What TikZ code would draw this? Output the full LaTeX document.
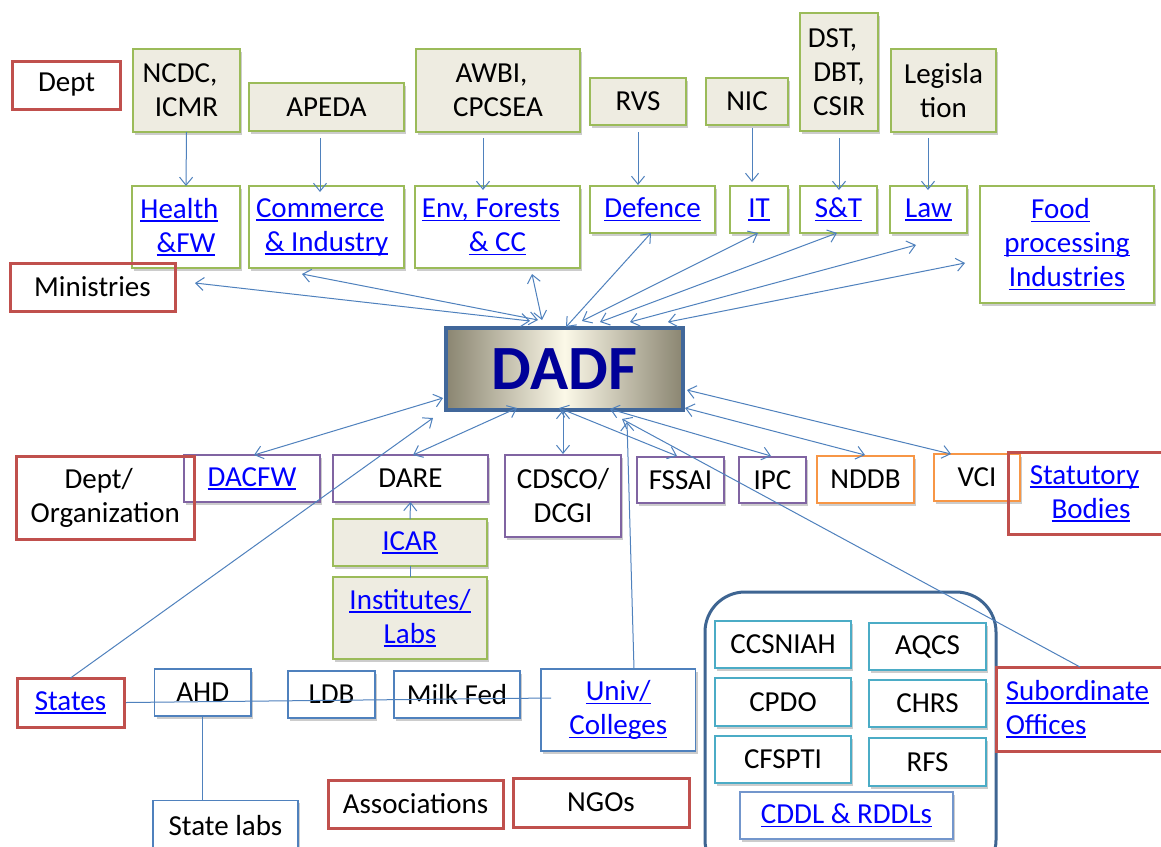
\documentclass[tikz,border=0pt]{standalone}
\usepackage{fontspec}
\setmainfont{Carlito}
\usetikzlibrary{arrows.meta,calc,shadows}
\definecolor{olivefill}{HTML}{EEECE1}
\definecolor{greenline}{HTML}{9BBB59}
\definecolor{redline}{HTML}{C0504D}
\definecolor{purpleline}{HTML}{8064A2}
\definecolor{orangeline}{HTML}{F79646}
\definecolor{blueline}{HTML}{4F81BD}
\definecolor{tealline}{HTML}{4BACC6}
\definecolor{cddlline}{HTML}{7396CC}
\definecolor{contline}{HTML}{3E6592}
\definecolor{dadfline}{HTML}{41679A}
\definecolor{dadfedge}{HTML}{8A8571}
\definecolor{dadfmid}{HTML}{FBF8E8}
\definecolor{linkblue}{HTML}{0000FF}
\definecolor{navytext}{HTML}{000099}
\newcommand\lnk[1]{{\color{linkblue}\setbox0\hbox{#1}\rlap{\rule[-3.5pt]{\wd0}{1.5pt}}\box0}}
\newcommand\tsp{\hspace*{0.45em}}
\newcommand\placebox[7]{\node[#1,minimum width={#5-#3},minimum height={#6-#4}] (#2) at ({(#3+#5)/2},{(#4+#6)/2}) {#7};}
\tikzset{
  base/.style={font={\fontsize{29}{34}\selectfont}, align=center, inner sep=0pt, outer sep=0pt, line width=1.3pt},
  shad/.style={drop shadow={opacity=0.2, shadow xshift=2pt, shadow yshift=-2.5pt, fill=black}},
  olivebox/.style={base, shad, draw=greenline, fill=olivefill},
  greenbox/.style={base, shad, draw=greenline, fill=white},
  redbox/.style={base, draw=redline, line width=3pt},
  purplebox/.style={base, shad, draw=purpleline, fill=white},
  orangebox/.style={base, shad, draw=orangeline, fill=white},
  bluebox/.style={base, shad, draw=blueline, fill=white, line width=1.1pt},
  tealbox/.style={base, shad, draw=tealline, fill=white},
  cddlbox/.style={base, shad, draw=cddlline, fill=white},
  dadfbox/.style={base, draw=dadfline, line width=3.5pt, left color=dadfedge, right color=dadfedge, middle color=dadfmid, font={\fontsize{63}{70}\selectfont\bfseries}, text=navytext},
  contbox/.style={draw=contline, line width=3pt, rounded corners=40pt, inner sep=0pt, outer sep=0pt},
  conn/.style={draw=blueline, line width=1pt},
  arr/.style={conn, -{Straight Barb[length=8pt,width=13pt]}},
  darr/.style={conn, {Straight Barb[length=8pt,width=13pt]}-{Straight Barb[length=8pt,width=13pt]}}
}
\begin{document}
\begin{tikzpicture}[x=1pt,y=-1pt]
\useasboundingbox (0,0) rectangle (1161,846);
\clip (0,0) rectangle (1161,846);
\fill[white] (0,0) rectangle (1161,846);
% top row
\placebox{olivebox}{ncdc}{133}{49}{240}{132}{NCDC,\tsp\\ICMR}
\placebox{olivebox}{apeda}{249}{83}{404}{131}{APEDA}
\placebox{olivebox}{awbi}{416}{49}{580}{132}{AWBI,\tsp\\CPCSEA}
\placebox{olivebox}{rvs}{590}{78}{686}{125}{RVS}
\placebox{olivebox}{nic}{706}{78}{788}{125}{NIC}
\placebox{olivebox}{dst}{800}{13}{878}{131}{DST,\tsp\\DBT,\tsp\\CSIR}
\placebox{olivebox}{legis}{891}{49}{996}{132}{Legisla\\tion}
% ministries
\placebox{greenbox}{health}{132}{186}{240}{268}{\lnk{Health}\tsp\\\lnk{\&FW}}
\placebox{greenbox}{commerce}{249}{186}{404}{268}{\lnk{Commerce}\tsp\\\lnk{\& Industry}}
\placebox{greenbox}{env}{415}{186}{580}{268}{\lnk{Env, Forests}\tsp\\\lnk{\& CC}}
\placebox{greenbox}{defence}{590}{186}{715}{233}{\lnk{Defence}}
\placebox{greenbox}{it}{730}{186}{788}{233}{\lnk{IT}}
\placebox{greenbox}{snt}{800}{186}{877}{233}{\lnk{S\&T}}
\placebox{greenbox}{law}{890}{186}{967}{233}{\lnk{Law}}
\placebox{greenbox}{food}{980}{186}{1154}{303}{\lnk{Food}\tsp\\\lnk{processing}\tsp\\\lnk{Industries}}
% DADF
\placebox{dadfbox}{dadf}{446}{328}{683}{410}{DADF}
% dept / organizations
\placebox{purplebox}{dacfw}{184}{455}{320}{502}{\lnk{DACFW}}
\placebox{purplebox}{dare}{333}{455}{488}{502}{DARE}
\placebox{purplebox}{cdsco}{505}{455}{621}{537}{CDSCO/\\DCGI}
\placebox{purplebox}{fssai}{637}{457}{724}{503}{FSSAI}
\placebox{purplebox}{ipc}{739}{457}{806}{503}{IPC}
\placebox{orangebox}{nddb}{817}{456}{914}{503}{NDDB}
\placebox{orangebox}{vci}{934}{454}{1020}{501}{VCI}
\placebox{olivebox}{icar}{333}{519}{487}{566}{\lnk{ICAR}}
\placebox{olivebox}{inst}{333}{577}{487}{659}{\lnk{Institutes/}\\\lnk{Labs}}
% states level
\placebox{bluebox}{ahd}{154.5}{669}{251}{716}{AHD}
\placebox{bluebox}{ldb}{288}{671}{375}{718}{LDB}
\placebox{bluebox}{milk}{394}{671}{520}{718}{Milk Fed}
\placebox{bluebox}{univ}{541}{669}{695.5}{751}{\lnk{Univ/}\\\lnk{Colleges}}
\placebox{bluebox}{statelabs}{153}{800.7}{298}{851}{State labs}
% subordinate offices group
\placebox{contbox}{group}{705}{592}{996}{880}{}
\placebox{tealbox}{ccsniah}{715}{621}{851}{668}{CCSNIAH}
\placebox{tealbox}{aqcs}{869}{623}{986}{670}{AQCS}
\placebox{tealbox}{cpdo}{715}{678}{851}{726}{CPDO}
\placebox{tealbox}{chrs}{869}{680}{986}{727}{CHRS}
\placebox{tealbox}{cfspti}{715}{736}{851}{783}{CFSPTI}
\placebox{tealbox}{rfs}{869}{738}{986}{786}{RFS}
\placebox{cddlbox}{cddl}{740}{792}{953}{839}{\lnk{CDDL \& RDDLs}}
% red category labels
\placebox{redbox}{dept}{12.6}{61}{120.5}{109}{Dept}
\placebox{redbox}{ministries}{10}{263}{175}{311}{Ministries}
\placebox{redbox}{deptorg}{16.5}{456}{194}{539}{Dept/\tsp\\Organization}
\placebox{redbox}{statutory}{1008}{452.7}{1174}{534}{\lnk{Statutory}\tsp\\\lnk{Bodies}}
\placebox{redbox}{states}{17}{678}{124}{727}{\lnk{States}}
\placebox{redbox}{assoc}{328}{780}{503}{828}{Associations}
\placebox{redbox}{ngos}{513}{778}{689}{827}{NGOs}
\node[redbox, align=left, minimum width=176, minimum height=84] (subord) at (1084,709) {\lnk{Subordinate}\tsp\\\lnk{Offices}};
% top -> ministries
\draw[arr] (ncdc.south) -- (health.north);
\draw[arr] ($(apeda.south)+(-6.5,7)$) -- ($(commerce.north)+(-6.5,6)$);
\draw[arr] ($(awbi.south)+(-15,6)$) -- ($(env.north)+(-14.5,4)$);
\draw[arr] ($(rvs.south)+(0,7)$) -- ($(defence.north)+(-14.5,-1)$);
\draw[arr] ($(nic.south)+(5,3)$) -- ($(it.north)+(-7,-4)$);
\draw[arr] ($(dst.south)+(0,7)$) -- ($(snt.north)+(0.5,4)$);
\draw[arr] ($(legis.south)+(-15.5,6)$) -- ($(law.north)+(-0.5,4)$);
% ministries <-> DADF
\draw[darr] ($(health.south)+(9,15)$) -- ($(dadf.north west)+(84,-7)$);
\draw[darr] ($(commerce.south)+(-24.5,6)$) -- ($(dadf.north west)+(92,-8)$);
\draw[darr] ($(env.south)+(34.5,6)$) -- ($(dadf.north west)+(96,-8)$);
\draw[darr] ($(defence.south)+(-1.5,0)$) -- ($(dadf.north west)+(120,-1)$);
\draw[darr] ($(it.south)+(-1,0)$) -- ($(dadf.north west)+(136,-7)$);
\draw[darr] ($(snt.south)+(-1.5,0)$) -- ($(dadf.north west)+(154,-6)$);
\draw[darr] ($(law.south)+(-12.5,12)$) -- ($(dadf.north west)+(184,-6)$);
\draw[darr] ($(food.west)+(-15,18.5)$) -- ($(dadf.north west)+(222,-6)$);
% lower <-> DADF
\draw[darr] ($(dacfw.north)+(2,0)$) -- ($(dadf.south west)+(-3,-12)$);
\draw[arr] (states.north) -- ($(dadf.south west)+(-13,8)$);
\draw[darr] ($(dare.north)+(2.5,0)$) -- ($(dadf.south west)+(71,-2)$);
\draw[darr] ($(cdsco.north)+(0,-1)$) -- ($(dadf.south west)+(117,0)$);
\draw[darr] ($(fssai.north)+(-3.5,-1)$) -- ($(dadf.south west)+(113,-2)$);
\draw[darr] ($(ipc.north)+(-1.5,-1)$) -- ($(dadf.south west)+(164,-1)$);
\draw[darr] ($(nddb.north)+(-0.5,-1)$) -- ($(dadf.south east)+(2,-2)$);
\draw[darr] ($(vci.north)+(-26,0)$) -- ($(dadf.east)+(4,21)$);
\draw[arr] ($(subord.north)+(-4,0)$) -- ($(dadf.south west)+(176,9)$);
\draw[arr] ($(univ.north)+(15.75,0)$) -- ($(dadf.south west)+(181,12)$);
% other links
\draw[arr] (icar.north) -- (dare.south);
\draw[conn] (icar.south) -- (inst.north);
\coordinate (univend) at ($(univ.west)+(10,-12)$);
\draw[conn] ($(states.east)+(2,0)$) -- (univend);
\draw[conn] (ahd.south) -- (ahd.south |- statelabs.north);
\end{tikzpicture}
\end{document}
